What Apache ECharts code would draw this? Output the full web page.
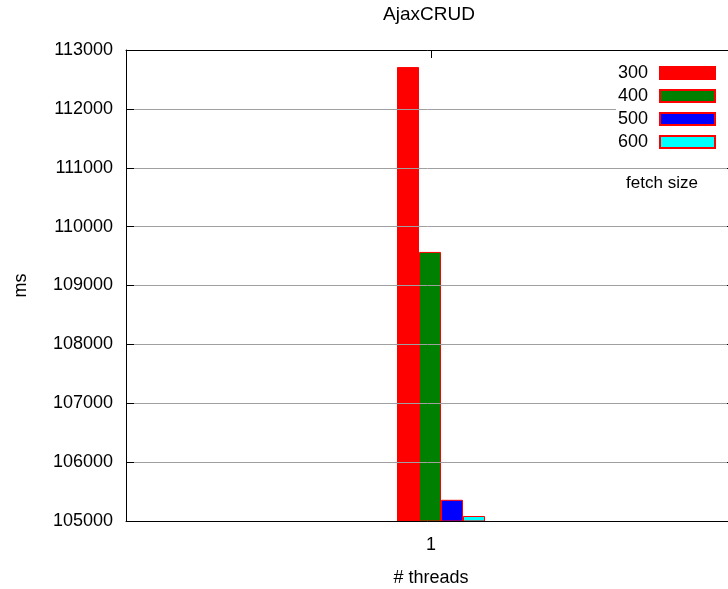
<!DOCTYPE html>
<html><head><meta charset="utf-8">
<script src="https://cdn.jsdelivr.net/npm/echarts@6/dist/echarts.min.js"></script>
<style>html,body{margin:0;padding:0;background:#fff}#c{width:728px;height:589px}</style>
</head><body><div id="c"></div>
<script>
const categories = ['1'];
const seriesNames = ['300', '400', '500', '600'];
const values300 = [112710];
const values400 = [109570];
const values500 = [105360];
const values600 = [105085];
const colors = ['#ff0000', '#008000', '#0000ff', '#00ffff'];
const yMin = 105000, yMax = 113000, yStep = 1000;

const FONT = 'Liberation Sans, Arial, sans-serif';
const allValues = [values300, values400, values500, values600];

const chart = echarts.init(document.getElementById('c'), null, {renderer: 'canvas'});
chart.setOption({
  animation: false,
  backgroundColor: '#fff',
  textStyle: {fontFamily: FONT},
  graphic: [{
    type: 'text', x: 429, y: 15,
    style: {text: 'AjaxCRUD', fontFamily: FONT, fontSize: 19, fill: '#000', align: 'center', verticalAlign: 'middle'},
    z: 10
  }, {
    type: 'text', x: 662, y: 183,
    style: {text: 'fetch size', fontFamily: FONT, fontSize: 17, fill: '#000', align: 'center', verticalAlign: 'middle'},
    z: 10
  }],
  legend: {
    data: seriesNames,
    orient: 'vertical', right: 0, top: 58,
    padding: [6, 12, 6, 2],
    align: 'right',
    itemWidth: 55, itemHeight: 12, itemGap: 5,
    icon: 'rect',
    backgroundColor: '#fff',
    textStyle: {fontFamily: FONT, fontSize: 18, color: '#000', padding: [0, 7, 0, 0]}
  },
  grid: [
    {left: 126, width: 610, top: 50, height: 471, show: false, outerBoundsMode: 'none', containLabel: false},
    {left: 136, width: 610, top: 50, height: 471, show: false, outerBoundsMode: 'none', containLabel: false}
  ],
  xAxis: [
    {type: 'category', gridIndex: 0, data: categories, position: 'bottom',
     name: '# threads', nameLocation: 'middle', nameGap: 48,
     nameTextStyle: {fontFamily: FONT, fontSize: 18, color: '#000'},
     axisLine: {show: true, lineStyle: {color: '#000', width: 1}},
     axisTick: {show: false},
     axisLabel: {fontFamily: FONT, fontSize: 18, color: '#000', margin: 15},
     splitLine: {show: false}, z: 3},
    {type: 'category', gridIndex: 0, data: categories, position: 'top',
     axisLine: {show: true, lineStyle: {color: '#000', width: 1}},
     axisTick: {show: true, inside: true, length: 8, alignWithLabel: true, lineStyle: {color: '#000'}},
     axisLabel: {show: false}, splitLine: {show: false}, z: 3},
    {type: 'category', gridIndex: 1, data: categories, show: false}
  ],
  yAxis: [
    {type: 'value', gridIndex: 0, min: yMin, max: yMax, interval: yStep, position: 'left',
     name: 'ms', nameLocation: 'middle', nameGap: 96,
     nameTextStyle: {fontFamily: FONT, fontSize: 18, color: '#000'},
     axisLine: {show: true, lineStyle: {color: '#000', width: 1}},
     axisTick: {show: true, inside: true, length: 8, lineStyle: {color: '#000'}},
     axisLabel: {fontFamily: FONT, fontSize: 18, color: '#000', margin: 13, formatter: v => String(v)},
     splitLine: {show: true, lineStyle: {color: '#a0a0a0', width: 1}}, z: 3},
    {type: 'value', gridIndex: 0, min: yMin, max: yMax, interval: yStep, position: 'right',
     axisLine: {show: true, lineStyle: {color: '#000', width: 1}},
     axisTick: {show: true, inside: true, length: 9, lineStyle: {color: '#000'}},
     axisLabel: {show: false}, splitLine: {show: false}, z: 3},
    {type: 'value', gridIndex: 1, min: yMin, max: yMax, interval: yStep, show: false}
  ],
  series: seriesNames.map((n, i) => ({
    name: n, type: 'bar', xAxisIndex: 2, yAxisIndex: 2,
    data: allValues[i], barWidth: 22, barGap: '0%',
    itemStyle: {color: colors[i], borderColor: '#ff0000', borderWidth: 1},
    z: 2
  }))
});
</script></body></html>
